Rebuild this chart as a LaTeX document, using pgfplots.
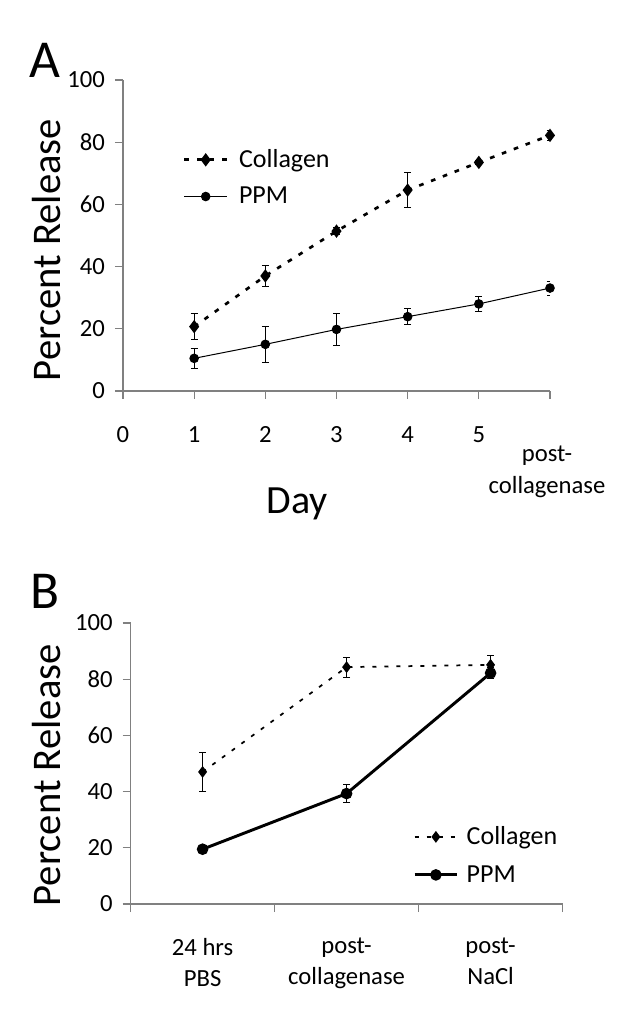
\documentclass[border=0pt]{standalone}
\usepackage{fontspec}
\setmainfont{Carlito}
\usepackage{pgfplots}
\usepackage{pgfplotstable}
\pgfplotsset{compat=1.18}
\pgfplotstableread{
x c ce p pe
1 20.7 4.1 10.5 3.1
2 37.0 3.3 15.0 5.7
3 51.4 1.2 19.8 5.1
4 64.6 5.7 23.9 2.6
5 73.5 0.8 28.0 2.5
6 82.2 1.6 33.1 2.3
}\dataA
\pgfplotstableread{
x c ce p pe
0.5 47.0 7.0 19.5 1.2
1.5 84.3 3.6 39.3 3.2
2.5 85.1 3.2 82.2 2.0
}\dataB
\begin{document}
\begin{tikzpicture}
\useasboundingbox (0,0) rectangle (474pt,766.5pt);
\pgfplotsset{
  common/.style={
    scale only axis,
    axis x line*=bottom, axis y line*=left,
    axis line style={gray, line width=0.8pt},
    tick style={gray, line width=0.8pt},
    tick align=outside,
    major tick length=6pt,
    minor tick num=0,
    ymin=0, ymax=100, ytick={0,20,...,100},
    /pgf/number format/assume math mode=true,
    ticklabel style={font=\fontsize{18.5}{22}\selectfont, text=black},
    legend cell align=left,
    legend image code/.code={\draw[mark repeat=2,mark phase=2,##1] plot coordinates {(0pt,0pt) (16pt,0pt) (32pt,0pt)};},
    error bars/error bar style={line width=0.6pt, solid, black},
    error bars/error mark options={rotate=90, mark size=2.6pt, line width=0.6pt, solid, black},
  }
}
% ---------- Panel A ----------
\begin{axis}[common,
  at={(92.25pt,473.25pt)}, anchor=south west,
  width=320.25pt, height=233.25pt,
  xmin=0, xmax=6, xtick={0,1,...,6},
  xticklabels={0,1,2,3,4,5,{}},
  xticklabel style={yshift=-17pt},
  yticklabel style={xshift=-4pt},
  legend style={draw=none, fill=none, at={(axis cs:0.84,78.5)}, anchor=north west,
    font=\fontsize{19.5}{23}\selectfont, row sep=9pt, column sep=6pt, inner sep=0pt},
]
\addplot[black, line width=2pt, dash pattern=on 3.5pt off 6pt, mark=diamond*, mark size=3.4pt, mark options={solid},
  error bars/.cd, y dir=both, y explicit]
  table[x=x, y=c, y error=ce]{\dataA};
\addlegendentry{Collagen}
\addplot[black, line width=0.75pt, mark=*, mark size=3.2pt,
  error bars/.cd, y dir=both, y explicit]
  table[x=x, y=p, y error=pe]{\dataA};
\addlegendentry{PPM}
\end{axis}
\node[font=\fontsize{40}{44}\selectfont] at (33.75pt,721.5pt) {A};
\node[rotate=90, font=\fontsize{30.5}{33}\selectfont] at (35.25pt,579pt) {Percent Release};
\node[font=\fontsize{30}{33}\selectfont] at (223pt,388.5pt) {Day};
\node[align=center, font=\fontsize{18.5}{24}\selectfont] at (410.25pt,413pt) {post-\\collagenase};
% ---------- Panel B ----------
\begin{axis}[common,
  at={(97.95pt,88.5pt)}, anchor=south west,
  width=324pt, height=210.75pt,
  xmin=0, xmax=3, xtick={0,1,2,3}, xticklabels={},
  extra x ticks={0.5,1.5,2.5},
  extra x tick labels={{24 hrs\\PBS},{post-\\collagenase},{post-\\NaCl}},
  extra x tick style={major tick length=0pt, xticklabel style={align=center, yshift=-22pt, font=\fontsize{18.5}{23.5}\selectfont}},
  yticklabel style={xshift=-4pt},
  legend style={draw=none, fill=none, at={(axis cs:1.96,28.5)}, anchor=north west,
    font=\fontsize{19.5}{23}\selectfont, row sep=10pt, column sep=4pt, inner sep=0pt},
]
\addplot[black, line width=1.3pt, dash pattern=on 3pt off 6pt, mark=diamond*, mark size=3.4pt, mark options={solid},
  error bars/.cd, y dir=both, y explicit]
  table[x=x, y=c, y error=ce]{\dataB};
\addlegendentry{Collagen}
\addplot[black, line width=2.2pt, mark=*, mark size=3.2pt,
  error bars/.cd, y dir=both, y explicit]
  table[x=x, y=p, y error=pe]{\dataB};
\addlegendentry{PPM}
\end{axis}
\node[font=\fontsize{40}{44}\selectfont] at (33.75pt,323.25pt) {B};
\node[rotate=90, font=\fontsize{30.5}{33}\selectfont] at (35.25pt,185pt) {Percent Release};
\end{tikzpicture}
\end{document}
